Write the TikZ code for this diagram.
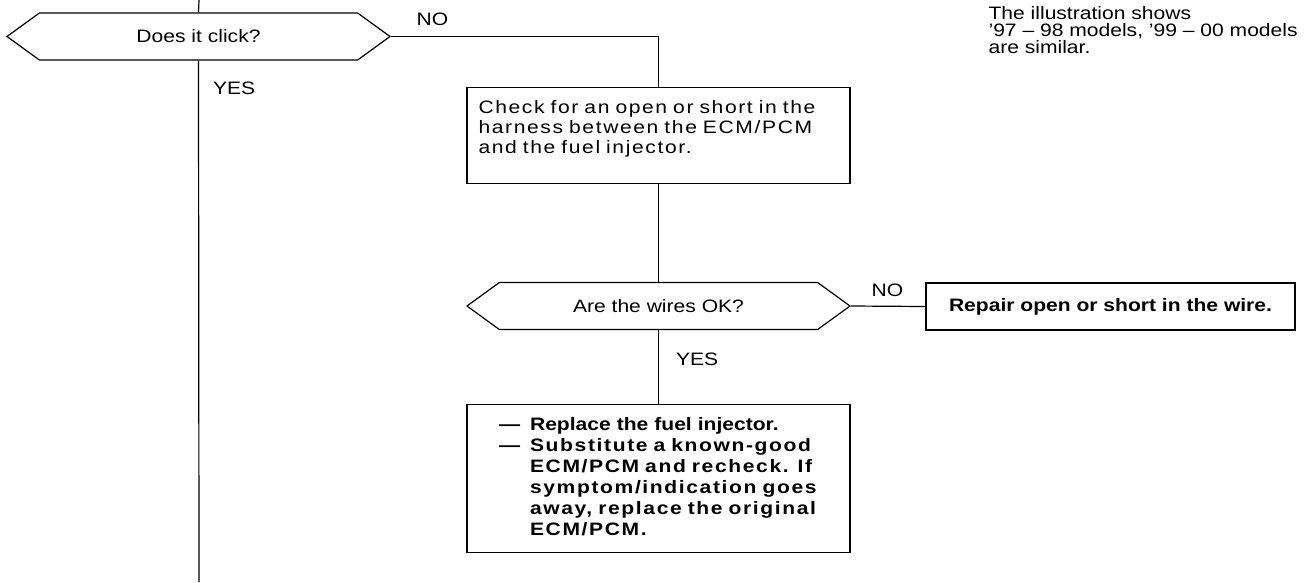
\documentclass[tikz,border=0pt]{standalone}
\usepackage{fontspec}
\setmainfont{Liberation Sans}[FakeStretch=1.17]
\newfontfamily\trackfont{Liberation Sans}[FakeStretch=1.17,LetterSpace=9]
\newfontfamily\widebold{Liberation Sans}[FakeStretch=1.17,LetterSpace=9]
\usepackage{tikz}
\usetikzlibrary{positioning,shapes.symbols}

\begin{document}
\begin{tikzpicture}[x=1pt,y=-1pt,line width=1.2pt,every node/.style={font=\fontsize{18}{20}\selectfont,inner sep=0pt},hexbox/.style={draw,shape=signal,signal to=west and east,signal pointer angle=72,minimum width=383pt,minimum height=47pt},box/.style={draw,rectangle,inner xsep=11.5pt}]
\useasboundingbox (0,0) rectangle (1315,582);
\coordinate (top) at (199,0);
\coordinate (bottom) at (199,582);
\node[hexbox] (click) at (198.5,36.5) {Does it click?};
\node[box,anchor=north,text width=360pt,align=left,inner ysep=12.9pt,font=\trackfont\fontsize{18}{20}\selectfont] (check) at (658.5,87) {\makebox[360pt][s]{Check for an open or short in the}\\\makebox[360pt][s]{harness between the ECM/PCM}\\and the fuel injector.\rule[-17.1pt]{0pt}{17.1pt}};
\node[hexbox] (wires) at (658.5,306) {Are the wires OK?};
\node[box,minimum width=369pt,minimum height=47pt,font=\bfseries\fontsize{18}{20}\selectfont] (repair) at (1110.5,306.5) {Repair open or short in the wire.};
\node[box,anchor=north,inner xsep=0pt,text width=383pt,minimum height=148pt,align=left,font=\bfseries\fontsize{18}{21}\selectfont] (replace) at (658.5,404) {\begin{tabular}{@{\hspace{32pt}}l@{\hspace{10pt}}l@{}}
— & Replace the fuel injector.\\
— & \widebold\makebox[302pt][s]{Substitute a known-good}\\
 & \widebold\makebox[302pt][s]{ECM/PCM and recheck. If}\\
 & \widebold\makebox[302pt][s]{symptom/indication goes}\\
 & \widebold\makebox[302pt][s]{away, replace the original}\\
 & \widebold ECM/PCM.
\end{tabular}};
% labels on the branches
\node[above right=10pt and 25pt of click.east] (no1) {NO};
\node[below right=21pt and 14pt of click.south] (yes1) {YES};
\node[above right=9pt and 20pt of wires.east] (no2) {NO};
\node[below right=22pt and 17pt of wires.south] (yes2) {YES};
\node[anchor=north west,align=left,font=\fontsize{18}{17}\selectfont] (note) at (988,6) {The illustration shows\\’97 – 98 models, ’99 – 00 models\\are similar.};
\draw (top) -- (click.north);
\draw (click.south) -- (bottom);
\draw (click.east) -| (check.north);
\draw (check.south) -- (wires.north);
\draw (wires.east) -- (repair.west);
\draw (wires.south) -- (replace.north);
\end{tikzpicture}
\end{document}
